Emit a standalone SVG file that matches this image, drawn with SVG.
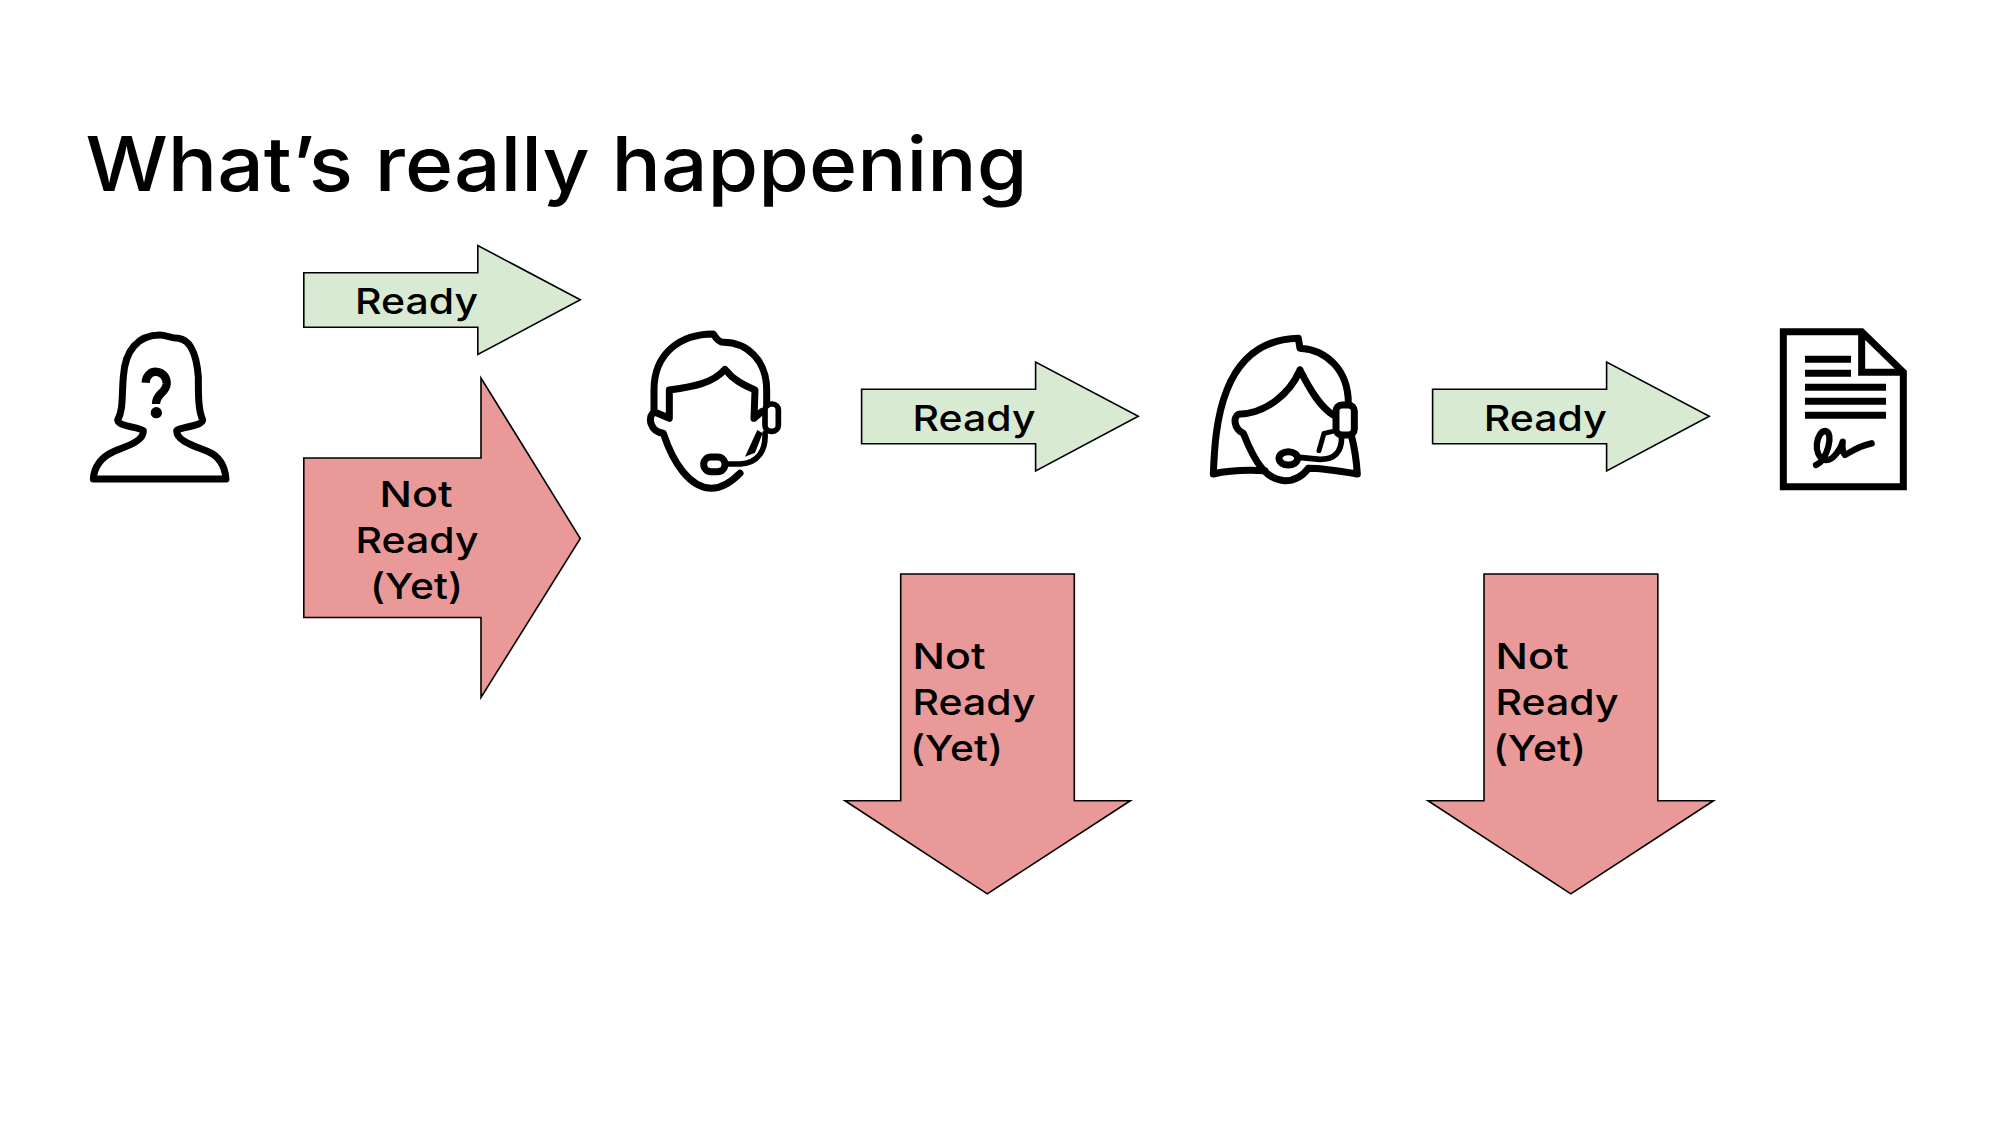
<svg xmlns="http://www.w3.org/2000/svg" width="2000" height="1125" viewBox="0 0 2000 1125">
<style>
text{font-family:"Inter","Noto Sans","Liberation Sans",sans-serif;fill:#000}
.t{font-size:36px;font-weight:500}
.title{font-size:76px;font-weight:500}
.go{fill:#d9ead3;stroke:#000;stroke-width:1.6}
.stop{fill:#ea9999;stroke:#000;stroke-width:1.6}
.ic{fill:none;stroke:#000;stroke-width:21;stroke-linejoin:round;stroke-linecap:round}
</style>
<rect width="2000" height="1125" fill="#fff"/>
<text class="title" x="85.500" y="191" textLength="942" lengthAdjust="spacingAndGlyphs">What’s really happening</text>

<g id="connectors">
<g id="ready-1"><path class="go" d="M303.800 272.800H477.800V245.500L580.300 299.800L477.800 354.500V327.200H303.800Z"/>
<text class="t" x="355" y="314" textLength="123" lengthAdjust="spacingAndGlyphs">Ready</text></g>
<g id="notready-1"><path class="stop" d="M303.800 458H481V378L580.300 538.500L481 697.500V617.500H303.800Z"/>
<text class="t" x="379.500" y="506.500" textLength="73" lengthAdjust="spacingAndGlyphs">Not</text>
<text class="t" x="355.500" y="552.500" textLength="123" lengthAdjust="spacingAndGlyphs">Ready</text>
<text class="t" x="370" y="598.500" textLength="93" lengthAdjust="spacingAndGlyphs">(Yet)</text></g>
<g id="ready-2"><path class="go" d="M861.600 389.300H1035.600V362L1138.300 416.300L1035.600 471V443.700H861.600Z"/>
<text class="t" x="912.500" y="430.500" textLength="123" lengthAdjust="spacingAndGlyphs">Ready</text></g>
<g id="ready-3"><path class="go" d="M1432.600 389.300H1606.600V362L1709.300 416.300L1606.600 471V443.700H1432.600Z"/>
<text class="t" x="1483.800" y="430.500" textLength="123" lengthAdjust="spacingAndGlyphs">Ready</text></g>
<g id="notready-2"><path class="stop" d="M900.700 574H1074.300V800.700H1130.300L987.300 893.800L845 800.700H900.700Z"/>
<text class="t" x="912.500" y="669.300" textLength="73" lengthAdjust="spacingAndGlyphs">Not</text>
<text class="t" x="912.500" y="715" textLength="123" lengthAdjust="spacingAndGlyphs">Ready</text>
<text class="t" x="910" y="761" textLength="93" lengthAdjust="spacingAndGlyphs">(Yet)</text></g>
<g id="notready-3"><path class="stop" d="M1484 574H1657.800V800.700H1713.500L1570.800 893.800L1428 800.700H1484Z"/>
<text class="t" x="1495.500" y="669.300" textLength="73" lengthAdjust="spacingAndGlyphs">Not</text>
<text class="t" x="1495.500" y="715" textLength="123" lengthAdjust="spacingAndGlyphs">Ready</text>
<text class="t" x="1493" y="761" textLength="93" lengthAdjust="spacingAndGlyphs">(Yet)</text></g>
</g>

<g id="customer" transform="translate(70 310) scale(.33333)">
<path class="ic" d="M70 507C72 470 95 440 130 425C165 410 222 395 220 362C205 350 145 350 143 330C160 300 155 260 160 200C165 120 205 75 270 75C290 75 300 85 325 85C365 90 380 140 385 200C385 260 385 300 398 330C395 350 330 350 320 362C320 395 380 410 415 425C450 440 465 470 468 507Z"/>
<path class="ic" style="stroke-width:25;stroke-linecap:butt" d="M227 218C230 170 292 178 290 222C288 250 258 250 258 282"/>
<circle cx="259" cy="308" r="17"/>
</g>

<g id="agent-male" transform="translate(630 310) scale(.33333)">
<path class="ic" d="M72 305V240C72 130 150 72 250 72C262 92 270 97 280 97C350 97 410 150 410 240V285M72 305L118 325V240C190 230 250 220 285 178C310 210 340 225 375 240L372 325L395 305M68 310C55 325 60 365 100 370C130 460 180 535 245 535C280 535 310 510 330 490"/>
<rect class="ic" style="stroke-width:17" x="405" y="282" width="40" height="82" rx="18"/>
<path d="M382 360L345 440L375 428L398 370Z"/>
<path class="ic" style="stroke-width:17" d="M405 370C408 420 385 460 330 462H285"/>
<rect class="ic" x="221" y="441" width="64" height="44" rx="22"/>
</g>

<g id="agent-female" transform="translate(1200 320) scale(.33333)">
<path class="ic" d="M40 462C45 350 50 60 295 55L300 85C380 90 445 150 445 250M455 350C465 390 470 430 472 462C430 455 370 445 325 445M40 462C90 450 150 450 195 452M300 150C270 220 200 280 115 283C100 290 100 325 130 340C165 430 200 480 255 482C290 482 310 465 325 445M300 150C330 210 360 260 400 285"/>
<rect class="ic" x="408" y="255" width="55" height="90" rx="18"/>
<path class="ic" style="stroke-width:15" d="M395 335L372 340L357 392"/>
<path class="ic" style="stroke-width:17" d="M425 350C425 400 400 418 360 418L297 412"/>
<ellipse class="ic" cx="265" cy="415" rx="28" ry="20"/>
</g>

<g id="document" transform="translate(1770 315) scale(.33333)">
<path class="ic" style="stroke-linejoin:miter;stroke-linecap:butt" d="M40 50H275L400 172V515H40Z"/>
<path class="ic" style="stroke-linejoin:miter;stroke-linecap:butt" d="M275 50V172H400"/>
<path class="ic" style="stroke-linecap:butt" d="M105 133H243M105 175H243M105 217H348M105 259H348M105 301H348"/>
<path class="ic" style="stroke-width:19" d="M138 450C170 440 195 350 165 348C140 350 125 420 165 435C190 440 215 395 218 380C215 400 220 415 225 420C245 410 260 395 305 385"/>
</g>
</svg>
